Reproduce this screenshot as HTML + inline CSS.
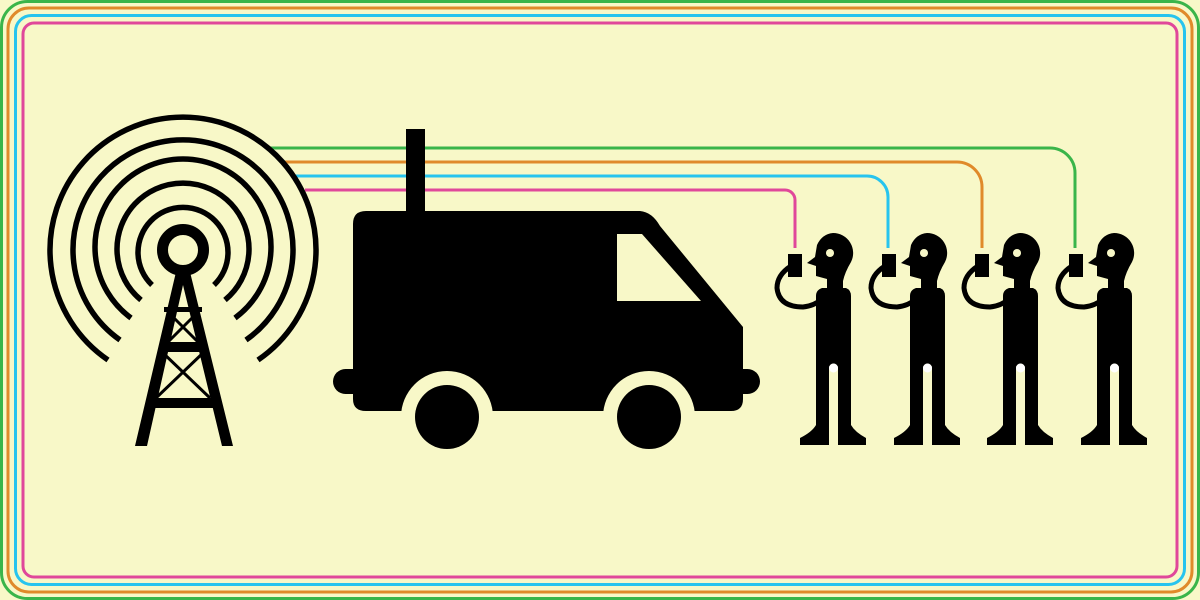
<!DOCTYPE html>
<html><head><meta charset="utf-8"><style>html,body{margin:0;padding:0;background:#f8f8c8}svg{display:block}</style></head>
<body>
<svg width="1200" height="600" viewBox="0 0 1200 600" xmlns="http://www.w3.org/2000/svg">
<rect width="1200" height="600" fill="#f8f8c8"/>
<g fill="none" stroke-width="3">
<rect x="1.5" y="1.5" width="1197" height="597" rx="26" stroke="#3ab54a"/>
<rect x="8" y="8" width="1184" height="584" rx="21" stroke="#e08a2a"/>
<rect x="15.5" y="15.5" width="1169" height="569" rx="16" stroke="#27c4ee"/>
<rect x="23" y="23" width="1154" height="554" rx="11" stroke="#e0489a"/>
</g>
<g fill="none" stroke-width="3">
<path d="M270 148 H1050 A25 25 0 0 1 1075 173 V248" stroke="#3ab54a"/>
<path d="M283 162 H957 A25 25 0 0 1 982 187 V248" stroke="#e08a2a"/>
<path d="M295 176 H867 A21 21 0 0 1 888 197 V248" stroke="#27c4ee"/>
<path d="M305 190 H785 A10 10 0 0 1 795 200 V248" stroke="#e0489a"/>
</g>
<g fill="none" stroke="#000" stroke-width="5.5">
<path d="M108 360 A133 133 0 1 1 258 360"/>
<path d="M120 340 A110 110 0 1 1 246 340"/>
<path d="M131 318 A88 88 0 1 1 235 318"/>
<path d="M141 300 A66 66 0 1 1 225 300"/>
<path d="M152 285 A45 45 0 1 1 214 285"/>
</g>
<circle cx="183" cy="250" r="20.5" fill="none" stroke="#000" stroke-width="11"/>
<g fill="#000">
<polygon points="176,272 190,272 233,446 222,446 183,285 147,446 135,446"/>
<rect x="164" y="307" width="38" height="5"/>
<rect x="160" y="342" width="46" height="10"/>
<rect x="150" y="398" width="66" height="10"/>
</g>
<g stroke="#000" stroke-width="3">
<line x1="168" y1="312" x2="198" y2="342"/><line x1="198" y1="312" x2="168" y2="342"/>
<line x1="162" y1="352" x2="210" y2="398"/><line x1="204" y1="352" x2="156" y2="398"/>
</g>
<g fill="#000">
<rect x="406" y="129" width="19" height="90"/>
<path d="M366 211 H640 Q652 212 660 226 L743 327 V399 Q743 411 731 411 H366 Q353 411 353 399 V224 Q353 211 366 211 Z"/>
<rect x="333" y="369" width="427" height="25" rx="12.5"/>
</g>
<polygon points="617,234 642,234 701,301 617,301" fill="#f8f8c8"/>
<circle cx="447" cy="417" r="46" fill="#f8f8c8"/>
<circle cx="649" cy="417" r="46" fill="#f8f8c8"/>
<rect x="380" y="411" width="340" height="60" fill="#f8f8c8"/>
<circle cx="447" cy="417" r="32" fill="#000"/>
<circle cx="649" cy="417" r="32" fill="#000"/>
<defs>
<g id="p">
<rect x="788" y="254" width="14" height="23" fill="#000"/>
<path d="M791 266 Q777 275 777 288 Q779 307 803 307 Q814 306 822 299" fill="none" stroke="#000" stroke-width="5"/>
<path d="M833 233 A20 20 0 0 1 851 262 Q845 272 843 281 V292 H827 V279 L816 276 V266 L807 263 L815 257 L817 245 Q822 234 833 233 Z" fill="#000"/>
<circle cx="830" cy="253" r="4" fill="#f8f8c8"/>
<path d="M822 288 H846 Q851 290 851 296 V425 Q855 432 866 438 V445 H838 V368 A4.5 4.5 0 0 0 829 368 V445 H800 V438 Q812 432 816 425 V296 Q816 290 822 288 Z" fill="#000"/>
<circle cx="833.5" cy="368" r="4.5" fill="#fff"/>
</g>
</defs>
<use href="#p"/>
<use href="#p" x="94"/>
<use href="#p" x="187"/>
<use href="#p" x="281"/>
</svg>
</body></html>
